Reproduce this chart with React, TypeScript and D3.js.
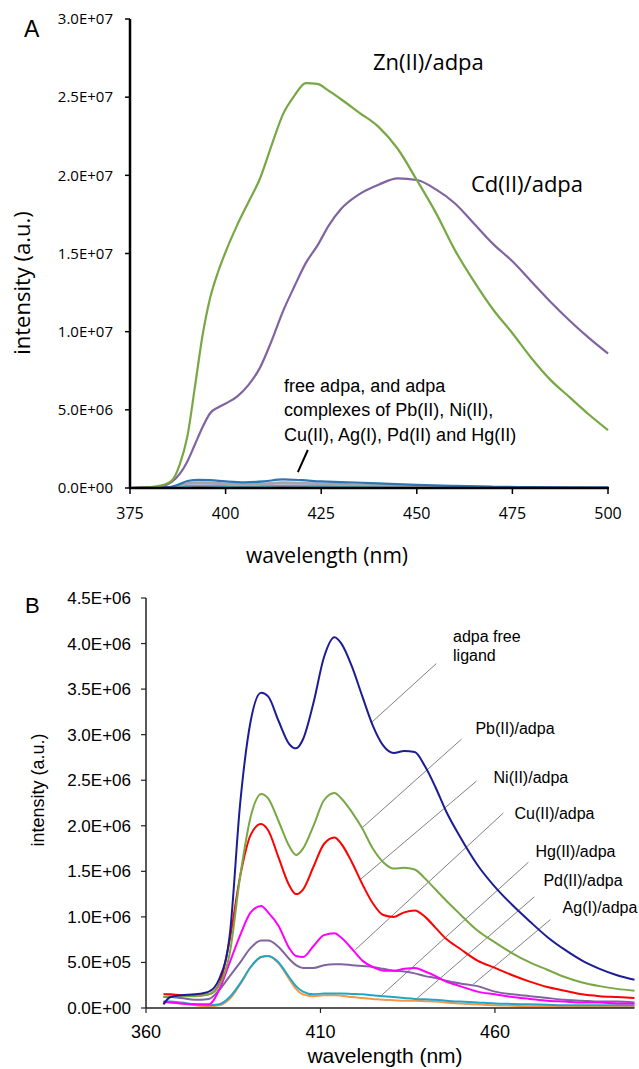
import React from 'react';
import * as d3 from 'd3';

// ---------- panel A data (intensity in units of 1e6) ----------
const wlA = [375, 380, 383, 386, 388, 390, 392, 394, 396, 398, 400, 403, 406, 409, 412, 415, 418, 421, 424, 427, 430, 435, 440, 445, 450, 455, 460, 465, 470, 475, 480, 485, 490, 495, 500];
const znA = [0, 0.05, 0.15, 0.5, 1.5, 3.3, 6.5, 9.8, 12.2, 13.8, 15.1, 16.8, 18.3, 19.8, 21.9, 23.9, 25.1, 25.9, 25.85, 25.4, 24.9, 24.0, 23.1, 21.7, 19.7, 17.6, 15.2, 13.2, 11.4, 9.9, 8.3, 6.9, 5.8, 4.7, 3.7];
const cdA = [0, 0.02, 0.08, 0.4, 0.9, 1.7, 2.8, 3.9, 4.8, 5.15, 5.4, 5.85, 6.6, 7.7, 9.4, 11.3, 12.9, 14.4, 15.5, 16.8, 17.8, 18.8, 19.4, 19.8, 19.7, 19.1, 18.2, 16.9, 15.6, 14.5, 13.2, 11.9, 10.7, 9.6, 8.6];

const wlLow = [375, 385, 388, 390, 393, 396, 400, 405, 410, 415, 420, 425, 430, 440, 450, 460, 470, 480, 490, 500];
const freeA = [0, 0.05, 0.25, 0.45, 0.52, 0.5, 0.42, 0.36, 0.42, 0.55, 0.5, 0.42, 0.38, 0.3, 0.2, 0.13, 0.08, 0.05, 0.03, 0.02];
const pbA = [0, 0.03, 0.18, 0.32, 0.36, 0.34, 0.28, 0.24, 0.28, 0.36, 0.33, 0.28, 0.25, 0.2, 0.14, 0.09, 0.06, 0.04, 0.02, 0.01];
const niA = [0, 0.02, 0.14, 0.26, 0.3, 0.28, 0.23, 0.2, 0.24, 0.3, 0.28, 0.24, 0.21, 0.17, 0.12, 0.08, 0.05, 0.03, 0.02, 0.01];
const cuA = [0, 0.02, 0.08, 0.14, 0.16, 0.15, 0.12, 0.1, 0.12, 0.16, 0.15, 0.13, 0.11, 0.09, 0.06, 0.04, 0.03, 0.02, 0.01, 0.01];
const agA = [0, 0.01, 0.05, 0.08, 0.09, 0.08, 0.06, 0.05, 0.05, 0.06, 0.06, 0.05, 0.04, 0.03, 0.02, 0.02, 0.01, 0.01, 0.01, 0];

const ticksXA = [375, 400, 425, 450, 475, 500];
const ticksYA = [0, 5e6, 1e7, 1.5e7, 2e7, 2.5e7, 3e7];
const noteA = ['free adpa, and adpa', 'complexes of Pb(II), Ni(II),', 'Cu(II), Ag(I), Pd(II) and Hg(II)'];

// ---------- panel B data (intensity in units of 1e6) ----------
const wlB = [365, 367, 370, 374, 378, 381, 384, 387, 390, 393, 395, 398, 401, 403, 405, 408, 411, 414, 416, 419, 422, 425, 428, 431, 434, 437, 440, 443, 446, 450, 455, 460, 465, 470, 475, 480, 485, 490, 495, 500];
const freeB = [0.04, 0.12, 0.14, 0.15, 0.18, 0.32, 0.8, 2.25, 3.15, 3.46, 3.42, 3.15, 2.9, 2.85, 2.95, 3.35, 3.85, 4.07, 4.0, 3.75, 3.42, 3.1, 2.88, 2.8, 2.82, 2.81, 2.65, 2.42, 2.16, 1.88, 1.57, 1.33, 1.13, 0.95, 0.78, 0.64, 0.52, 0.43, 0.36, 0.31];
const pbB = [0.12, 0.13, 0.13, 0.13, 0.15, 0.25, 0.6, 1.45, 2.1, 2.35, 2.3, 2.05, 1.78, 1.68, 1.75, 2.0, 2.28, 2.36, 2.3, 2.15, 1.97, 1.75, 1.6, 1.53, 1.54, 1.52, 1.42, 1.3, 1.18, 1.03, 0.85, 0.72, 0.6, 0.5, 0.42, 0.34, 0.28, 0.24, 0.21, 0.19];
const niB = [0.15, 0.15, 0.14, 0.14, 0.15, 0.26, 0.75, 1.45, 1.9, 2.02, 1.95, 1.65, 1.35, 1.25, 1.3, 1.55, 1.8, 1.87, 1.8, 1.6, 1.36, 1.15, 1.02, 1.0, 1.05, 1.07, 1.0, 0.88, 0.76, 0.65, 0.52, 0.44, 0.36, 0.29, 0.23, 0.19, 0.15, 0.13, 0.12, 0.11];
const cuB = [0.07, 0.06, 0.05, 0.04, 0.04, 0.2, 0.5, 0.8, 1.05, 1.12, 1.05, 0.9, 0.66, 0.57, 0.56, 0.68, 0.8, 0.82, 0.77, 0.65, 0.52, 0.45, 0.41, 0.41, 0.43, 0.44, 0.4, 0.35, 0.29, 0.24, 0.18, 0.15, 0.12, 0.1, 0.08, 0.07, 0.06, 0.06, 0.05, 0.05];
const agB = [0.12, 0.12, 0.11, 0.09, 0.1, 0.2, 0.35, 0.5, 0.66, 0.74, 0.74, 0.67, 0.54, 0.47, 0.44, 0.44, 0.47, 0.48, 0.48, 0.47, 0.46, 0.45, 0.43, 0.41, 0.4, 0.38, 0.35, 0.33, 0.3, 0.27, 0.24, 0.18, 0.15, 0.13, 0.11, 0.09, 0.08, 0.07, 0.07, 0.06];
const hgB = [0.07, 0.07, 0.06, 0.04, 0.03, 0.04, 0.12, 0.27, 0.45, 0.56, 0.57, 0.5, 0.34, 0.24, 0.18, 0.15, 0.16, 0.16, 0.16, 0.155, 0.15, 0.14, 0.13, 0.12, 0.11, 0.1, 0.095, 0.09, 0.08, 0.07, 0.06, 0.05, 0.045, 0.04, 0.035, 0.03, 0.03, 0.03, 0.03, 0.03];
const pdB = [0.06, 0.06, 0.05, 0.03, 0.02, 0.03, 0.1, 0.26, 0.45, 0.56, 0.57, 0.49, 0.32, 0.21, 0.15, 0.13, 0.14, 0.14, 0.135, 0.12, 0.11, 0.1, 0.09, 0.085, 0.08, 0.08, 0.075, 0.07, 0.06, 0.05, 0.04, 0.03, 0.025, 0.02, 0.02, 0.015, 0.015, 0.015, 0.01, 0.01];

const ticksXB = [360, 410, 460];
const ticksYB = [0, 5e5, 1e6, 1.5e6, 2e6, 2.5e6, 3e6, 3.5e6, 4e6, 4.5e6];

// label text, anchor on curve [wl, 1e6], line end [wl, 1e6], text pos [wl, 1e6]
const labelsB = [
  { text: ['adpa free', 'ligand'], from: [424.8, 3.14], to: [443.2, 3.78], at: [448, 4.02] },
  { text: ['Pb(II)/adpa'], from: [422, 1.98], to: [450.4, 2.95], at: [454.4, 3.01] },
  { text: ['Ni(II)/adpa'], from: [421.4, 1.41], to: [454.7, 2.49], at: [459.6, 2.47] },
  { text: ['Cu(II)/adpa'], from: [420, 0.64], to: [462.4, 2.14], at: [465.6, 2.07] },
  { text: ['Hg(II)/adpa'], from: [427.7, 0.146], to: [469.6, 1.6], at: [471.6, 1.66] },
  { text: ['Pd(II)/adpa'], from: [437.2, 0.09], to: [471.3, 1.22], at: [473.9, 1.34] },
  { text: ['Ag(I)/adpa'], from: [453.8, 0.26], to: [475.9, 0.97], at: [479.4, 1.04] },
];

const sci = (v: number) => {
  if (v === 0) return '0.0E+00';
  const e = Math.floor(Math.log10(v) + 1e-9);
  return (v / 10 ** e).toFixed(1) + 'E+' + String(e).padStart(2, '0');
};

const xA = d3.scaleLinear().domain([375, 500]).range([130, 608]);
const yA = d3.scaleLinear().domain([0, 3e7]).range([488, 19]);
const xB = d3.scaleLinear().domain([360, 500]).range([146, 634.5]);
const yB = d3.scaleLinear().domain([0, 4.5e6]).range([1008, 598]);

const calibri = '"Open Sans", Lato, sans-serif';
const arial = '"Liberation Sans", Arial, sans-serif';

const App = () => {
  const lineA = (wl: number[], vals: number[]) =>
    d3.line<number>().x((_, i) => xA(wl[i])).y(d => yA(d * 1e6)).curve(d3.curveMonotoneX)(vals) || '';
  const lineB = (vals: number[]) =>
    d3.line<number>().x((_, i) => xB(wlB[i])).y(d => yB(d * 1e6)).curve(d3.curveMonotoneX)(vals) || '';

  const seriesA = [
    { vals: agA, wl: wlLow, color: '#c0504d' },
    { vals: cuA, wl: wlLow, color: '#4bacc6' },
    { vals: niA, wl: wlLow, color: '#b3a2c7' },
    { vals: pbA, wl: wlLow, color: '#a5a5a5' },
    { vals: freeA, wl: wlLow, color: '#2e75b6' },
    { vals: cdA, wl: wlA, color: '#8064a2' },
    { vals: znA, wl: wlA, color: '#77a843' },
  ];
  const seriesB = [
    { vals: pdB, color: '#f79646' },
    { vals: hgB, color: '#21a6c6' },
    { vals: agB, color: '#8064a2' },
    { vals: cuB, color: '#ff00ff' },
    { vals: niB, color: '#ff0000' },
    { vals: pbB, color: '#77a843' },
    { vals: freeB, color: '#1c1c94' },
  ];

  return (
    <svg width={639} height={1069} style={{ position: 'absolute', left: 0, top: 0, background: '#fff' }}>
      {/* ---------- Panel A ---------- */}
      <text x={24} y={37} fontFamily={arial} fontSize={23}>A</text>
      {seriesA.map((s, i) => (
        <path key={i} d={lineA(s.wl, s.vals)} fill="none" stroke={s.color} strokeWidth={2.2} />
      ))}
      <line x1={xA(375)} x2={xA(375)} y1={yA(3e7)} y2={yA(0)} stroke="#000" strokeWidth={2.5} />
      <line x1={xA(375) - 1} x2={xA(500) + 1} y1={yA(0)} y2={yA(0)} stroke="#000" strokeWidth={2.5} />
      {ticksYA.map(t => (
        <g key={t}>
          <line x1={xA(375) - 5} x2={xA(375)} y1={yA(t)} y2={yA(t)} stroke="#000" strokeWidth={1.5} />
          <text x={113} y={yA(t)} dy="0.35em" textAnchor="end" fontFamily={calibri} fontSize={15}>{sci(t)}</text>
        </g>
      ))}
      {ticksXA.map(t => (
        <g key={t}>
          <line x1={xA(t)} x2={xA(t)} y1={yA(0)} y2={yA(0) + 6} stroke="#000" strokeWidth={1.5} />
          <text x={xA(t)} y={519} textAnchor="middle" fontFamily={calibri} fontSize={16}>{t}</text>
        </g>
      ))}
      <text x={327} y={563} textAnchor="middle" fontFamily={calibri} fontSize={21}>wavelength (nm)</text>
      <text transform="translate(30,283) rotate(-90)" textAnchor="middle" fontFamily={calibri} fontSize={22}>intensity (a.u.)</text>
      <text x={373} y={70} fontFamily={calibri} fontSize={22}>Zn(II)/adpa</text>
      <text x={471} y={192} fontFamily={calibri} fontSize={22}>Cd(II)/adpa</text>
      {noteA.map((s, i) => (
        <text key={i} x={xA(415.3)} y={yA(6.14e6) + i * 24.4} fontFamily={arial} fontSize={18}>{s}</text>
      ))}
      <line x1={xA(418.9)} y1={yA(1.02e6)} x2={xA(421.5)} y2={yA(2.43e6)} stroke="#000" strokeWidth={2} />

      {/* ---------- Panel B ---------- */}
      <text x={25} y={613} fontFamily={arial} fontSize={22}>B</text>
      {labelsB.map((l, i) => (
        <g key={i}>
          <line x1={xB(l.from[0])} y1={yB(l.from[1] * 1e6)} x2={xB(l.to[0])} y2={yB(l.to[1] * 1e6)} stroke="#808080" strokeWidth={1} />
          {l.text.map((s, j) => (
            <text key={j} x={xB(l.at[0])} y={yB(l.at[1] * 1e6) + j * 19} fontFamily={arial} fontSize={16}>{s}</text>
          ))}
        </g>
      ))}
      {seriesB.map((s, i) => (
        <path key={i} d={lineB(s.vals)} fill="none" stroke={s.color} strokeWidth={2} />
      ))}
      <line x1={xB(360)} x2={xB(360)} y1={yB(4.5e6)} y2={yB(0)} stroke="#222" strokeWidth={1.5} />
      <line x1={xB(360)} x2={xB(500)} y1={yB(0)} y2={yB(0)} stroke="#222" strokeWidth={1.5} />
      {ticksYB.map(t => (
        <g key={t}>
          <line x1={xB(360) - 5} x2={xB(360)} y1={yB(t)} y2={yB(t)} stroke="#222" strokeWidth={1.2} />
          <text x={131} y={yB(t)} dy="0.35em" textAnchor="end" fontFamily={arial} fontSize={17}>{sci(t)}</text>
        </g>
      ))}
      {ticksXB.map(t => (
        <g key={t}>
          <line x1={xB(t)} x2={xB(t)} y1={yB(0)} y2={yB(0) + 5} stroke="#222" strokeWidth={1.2} />
          <text x={xB(t)} y={1038} textAnchor="middle" fontFamily={arial} fontSize={18}>{t}</text>
        </g>
      ))}
      <text x={385} y={1063} textAnchor="middle" fontFamily={arial} fontSize={21}>wavelength (nm)</text>
      <text transform="translate(44,790) rotate(-90)" textAnchor="middle" fontFamily={arial} fontSize={18}>intensity (a.u.)</text>
    </svg>
  );
};

export default App;
